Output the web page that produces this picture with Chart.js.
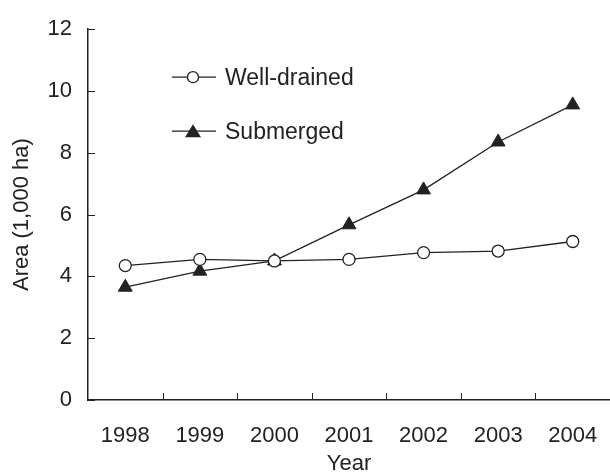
<!doctype html>
<html lang="en">
  <head>
    <meta charset="utf-8" />
    <title>Area by year</title>
    <style>
      html, body { margin: 0; padding: 0; background: #fff; }
      .chart-container { width: 610px; height: 472px; }
    </style>
  </head>
  <body>
    <div class="chart-container">
      <canvas id="area-chart"></canvas>
    </div>

    <script src="https://cdn.jsdelivr.net/npm/chart.js@4.4.1/dist/chart.umd.min.js"></script>
    <script>
      const years = ["1998", "1999", "2000", "2001", "2002", "2003", "2004"];
      const wellDrained = [4.35, 4.55, 4.5, 4.55, 4.77, 4.82, 5.13];
      const submerged = [3.65, 4.17, 4.5, 5.67, 6.8, 8.35, 9.55];
      const yTicks = [0, 2, 4, 6, 8, 10, 12];

      const ink = "#222";
      const fontFamily = "'Liberation Sans', Arial, sans-serif";

      // tick marks point inward, and the legend sits inside the plot
      const insideTicks = {
        id: "insideTicks",
        afterDraw(chart) {
          const { ctx, chartArea, scales } = chart;
          ctx.save();
          ctx.strokeStyle = ink;
          ctx.lineWidth = 1;
          const xs = scales.x;
          const step = xs.width / years.length;
          for (let i = 1; i < years.length; i++) {
            const px = Math.round(xs.left + i * step) + 0.5;
            ctx.beginPath();
            ctx.moveTo(px, chartArea.bottom);
            ctx.lineTo(px, chartArea.bottom - 7);
            ctx.stroke();
          }
          yTicks.forEach((v) => {
            const py = Math.round(scales.y.getPixelForValue(v)) + 0.5;
            ctx.beginPath();
            ctx.moveTo(chartArea.left, py);
            ctx.lineTo(chartArea.left + 7, py);
            ctx.stroke();
          });

          // legend
          ctx.font = "23px " + fontFamily;
          ctx.textBaseline = "middle";
          chart.data.datasets.forEach((ds, i) => {
            const ly = chartArea.top + 48 + i * 54;
            const lx = chartArea.left + 84;
            ctx.strokeStyle = ink;
            ctx.lineWidth = 1.3;
            ctx.beginPath();
            ctx.moveTo(lx, ly);
            ctx.lineTo(lx + 44, ly);
            ctx.stroke();
            const mx = lx + 21;
            ctx.beginPath();
            if (ds.pointStyle === "triangle") {
              ctx.moveTo(mx, ly - 7);
              ctx.lineTo(mx + 8, ly + 6);
              ctx.lineTo(mx - 8, ly + 6);
              ctx.closePath();
              ctx.fillStyle = ink;
              ctx.fill();
            } else {
              ctx.arc(mx, ly, 5.5, 0, Math.PI * 2);
              ctx.fillStyle = "#fff";
              ctx.fill();
              ctx.stroke();
            }
            ctx.fillStyle = ink;
            ctx.fillText(ds.label, lx + 53, ly + 1);
          });
          ctx.restore();
        },
      };

      const ctx = document.getElementById("area-chart");
      new Chart(ctx, {
        type: "line",
        data: {
          labels: years,
          datasets: [
            {
              label: "Well-drained",
              data: wellDrained,
              borderColor: ink,
              borderWidth: 1.3,
              pointStyle: "circle",
              pointRadius: 6,
              pointBackgroundColor: "#fff",
              pointBorderColor: ink,
              pointBorderWidth: 1.3,
              tension: 0,
            },
            {
              label: "Submerged",
              data: submerged,
              borderColor: ink,
              borderWidth: 1.3,
              pointStyle: "triangle",
              pointRadius: 8,
              pointBackgroundColor: ink,
              pointBorderColor: ink,
              pointBorderWidth: 1,
              tension: 0,
            },
          ],
        },
        options: {
          responsive: true,
          maintainAspectRatio: false,
          animation: false,
          events: [],
          layout: { autoPadding: false, padding: { top: 25, right: 0, left: 0, bottom: 0 } },
          plugins: {
            legend: { display: false },
            tooltip: { enabled: false },
          },
          scales: {
            x: {
              type: "category",
              offset: true,
              afterFit: (s) => {
                s.height = 72;
                s.paddingLeft = 0;
                s.paddingRight = 0;
              },
              grid: { display: true, color: "transparent", drawTicks: false, offset: true },
              border: { display: true, color: ink, width: 1.5 },
              ticks: {
                color: ink,
                padding: 23,
                maxRotation: 0,
                font: { family: fontFamily, size: 22 },
              },
              title: {
                display: true,
                text: "Year",
                color: ink,
                font: { family: fontFamily, size: 22, lineHeight: 1 },
                padding: { top: 0, bottom: -3 },
              },
            },
            y: {
              min: 0,
              max: 12,
              afterFit: (s) => { s.width = 88; },
              afterBuildTicks: (s) => { s.ticks = yTicks.map((v) => ({ value: v })); },
              grid: { display: true, color: "transparent", drawTicks: false },
              border: { display: true, color: ink, width: 1.5 },
              ticks: {
                color: ink,
                padding: 16,
                font: { family: fontFamily, size: 22 },
              },
              title: {
                display: true,
                text: "Area (1,000 ha)",
                color: ink,
                font: { family: fontFamily, size: 22, lineHeight: 1 },
                padding: { top: 11, bottom: 0 },
              },
            },
          },
        },
        plugins: [insideTicks],
      });
    </script>
  </body>
</html>
